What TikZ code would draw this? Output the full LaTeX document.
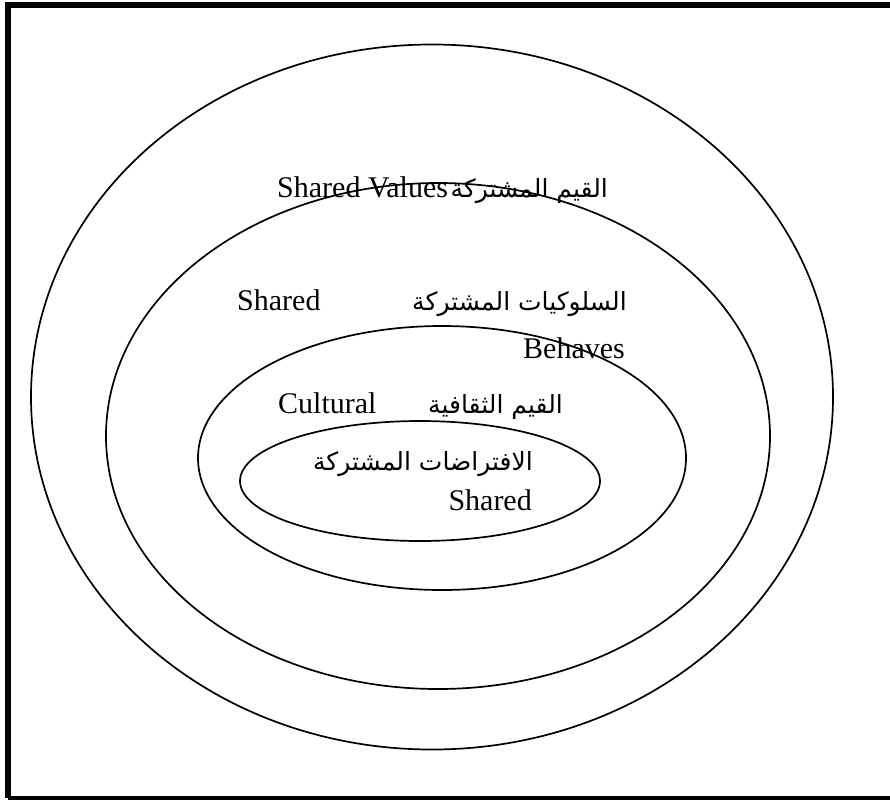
\documentclass[tikz,border=0pt]{standalone}
\usepackage{fontspec}
\setmainfont{Liberation Serif}
\newfontfamily\arabicfont[Script=Arabic]{DejaVu Sans}
\TeXXeTstate=1
\usetikzlibrary{positioning}
\usetikzlibrary{shapes}
\tikzstyle{ring}=[ellipse,draw,line width=1.7pt,inner sep=0pt,outer sep=0pt]
\tikzstyle{frameline}=[line width=6pt]
\tikzstyle{latin}=[inner sep=0pt,font=\fontsize{30}{36}\selectfont]
\tikzstyle{arab}=[inner sep=0pt,font=\fontsize{25}{30}\selectfont\arabicfont]

\begin{document}
\begin{tikzpicture}[x=1pt,y=-1pt]

    % page size of the reference
    \useasboundingbox (0,0) rectangle (890,801);

    % the frame (open on the right)
    \coordinate (TL) at (8,5);
    \coordinate (TR) at (890,5);
    \coordinate (BL) at (8,798);
    \coordinate (BR) at (890,798);
    \draw[frameline] (TR) -- (TL) -- (BL);
    \draw[line width=4pt] (BL) -- (BR);

    % First we draw the rings, from outside in
    \foreach \pos/\name/\w/\h in {{(432,397)/values/802/705}, {(438,436)/behaves/664/506}, {(442,458)/cultural/488/264}, {(420,481)/assume/360/120}}
        \node[ring,minimum width=\w pt,minimum height=\h pt] (\name) at \pos {};

    % outer ring
    \node[latin,anchor=base west] (valEn) at (277,197) {Shared Values};
    \node[arab,anchor=base east] (valAr) at (608,197) {\beginR القيم المشتركة\endR};

    % second ring
    \node[latin,anchor=base west] (behEn) at (237,310) {Shared};
    \node[arab,anchor=base east] (behAr) at (627,310) {\beginR السلوكيات المشتركة\endR};
    \node[latin,anchor=base east] (behEnB) at (625,358) {Behaves};

    % third ring
    \node[latin,anchor=base west] (culEn) at (278,413) {Cultural};
    \node[arab,anchor=base east] (culAr) at (563,413) {\beginR القيم الثقافية\endR};

    % inner ring
    \node[arab,anchor=base east] (assAr) at (533,470) {\beginR الافتراضات المشتركة\endR};
    \node[latin,anchor=base east] (assEn) at (532,510) {Shared};

\end{tikzpicture}
\end{document}
